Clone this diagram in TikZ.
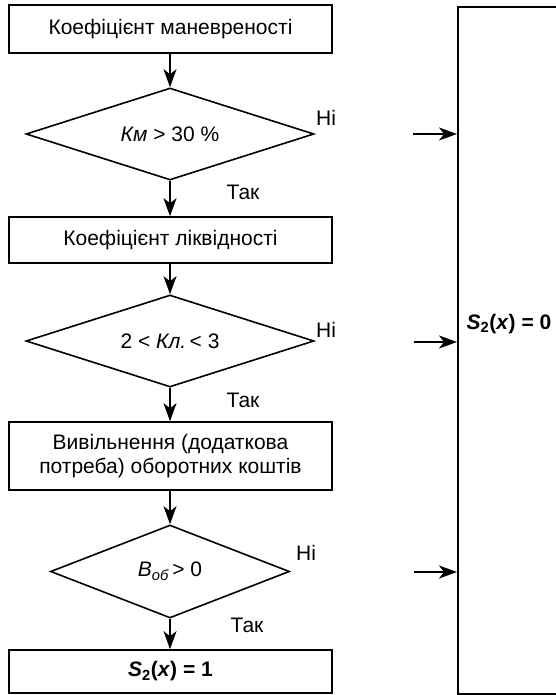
\documentclass[tikz,border=0pt]{standalone}
\usepackage{fontspec}
\setmainfont{Liberation Sans}
\usetikzlibrary{shapes.geometric,arrows.meta}
\tikzset{
  every node/.style={font=\fontsize{21}{24}\selectfont},
  stepbox/.style={draw, line width=1.6pt, rectangle, inner sep=0pt, minimum width=323pt, align=center},
  decis/.style={draw, line width=1.6pt, diamond, inner sep=0pt, aspect=3.1},
  flow/.style={line width=1.6pt, -{Stealth[length=18pt,width=13pt,inset=5pt]}},
  lbl/.style={inner sep=0pt}
}
\begin{document}
\begin{tikzpicture}[x=1pt,y=-1pt]
\useasboundingbox (0,0) rectangle (556,695);
\fill[white] (0,0) rectangle (556,695);
% left column
\node[stepbox, minimum height=48pt] (b1) at (170.5,29) {Коефіцієнт маневреності};
\node[decis, minimum width=288pt, minimum height=92pt] (d1) at (170,134) {\textit{Км} > 30 \%};
\node[stepbox, minimum height=46pt] (b2) at (170.5,240) {Коефіцієнт ліквідності};
\node[decis, minimum width=288pt, minimum height=92pt] (d2) at (170,341) {2 < \textit{Кл.}\,< 3};
\node[stepbox, minimum height=68pt] (b3) at (170.5,456) {Вивільнення (додаткова\\потреба) оборотних коштів};
\node[decis, aspect=2.57, minimum width=239pt, minimum height=93pt] (d3) at (170,571.5) {\textit{В\textsubscript{об}}\,> 0};
\node[stepbox, minimum height=43pt] (b4) at (170.5,671.5) {\textbf{\textit{S}\textsubscript{2}(\textit{x}) = 1}};
% labels
\node[lbl] (n1) at (326,118) {Ні};
\node[lbl] (t1) at (243,192) {Так};
\node[lbl] (n2) at (326,330) {Ні};
\node[lbl] (t2) at (243,400) {Так};
\node[lbl] (n3) at (306,553) {Ні};
\node[lbl] (t3) at (247,625) {Так};
% right box
\node[draw, line width=1.6pt, rectangle, inner sep=0pt, minimum width=110pt, minimum height=687pt, anchor=north west] (r) at (457,6) {};
\node[lbl] (rt) at (509,324) {\textbf{\textit{S}\textsubscript{2}(\textit{x}) = 0}};
\coordinate (a1) at (413,134);
\coordinate (a2) at (414,342);
\coordinate (a3) at (414,572);
% connectors
\draw[flow] (b1.south -| d1.north) -- (d1.north);
\draw[flow] (d1.south) -- (d1.south |- b2.north);
\draw[flow] (b2.south -| d2.north) -- (d2.north);
\draw[flow] (d2.south) -- (d2.south |- b3.north);
\draw[flow] (b3.south -| d3.north) -- (d3.north);
\draw[flow] (d3.south) -- (d3.south |- b4.north);
\draw[flow] (a1) -- (a1 -| r.west);
\draw[flow] (a2) -- (a2 -| r.west);
\draw[flow] (a3) -- (a3 -| r.west);
\end{tikzpicture}
\end{document}
